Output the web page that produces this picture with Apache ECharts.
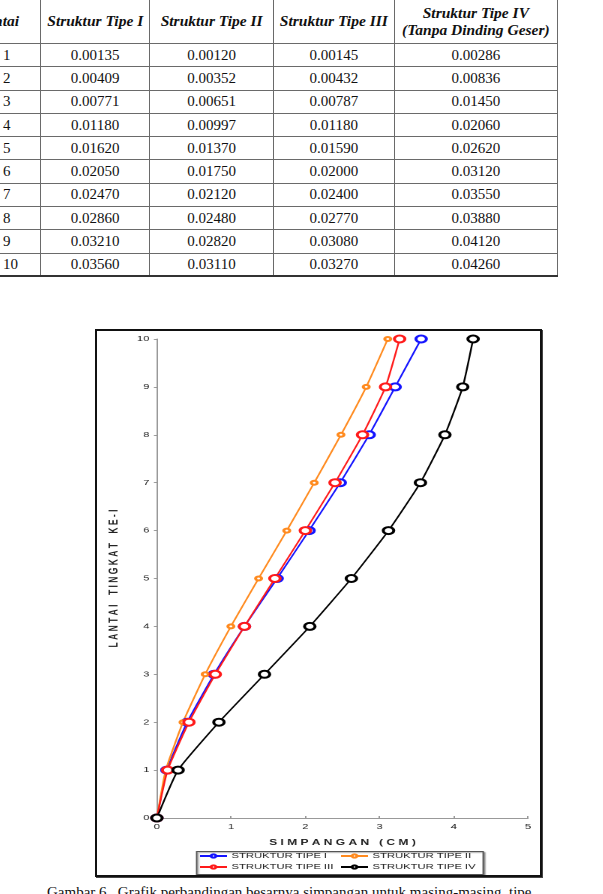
<!DOCTYPE html>
<html>
<head>
<meta charset="utf-8">
<script src="https://cdn.jsdelivr.net/npm/echarts@6/dist/echarts.min.js"></script>
<style>
html, body { margin: 0; padding: 0; width: 603px; height: 894px; overflow: hidden; background: #fff; }
.tbl {
  position: absolute; left: -45px; top: -3px;
  border-collapse: collapse; table-layout: fixed;
  font-family: 'Liberation Serif', 'Times New Roman', serif; font-size: 15px; color: #111;
}
.tbl th, .tbl td { border: 1px solid #6a6a6a; padding: 0; text-align: center; }
.tbl th { font-weight: bold; font-style: italic; height: 45px; line-height: 17px; font-size: 15.5px; }
.tbl tr.row { height: 23.3px; }
.tbl td.first { text-align: left; padding-left: 47px; }
.tbl tr.last td { border-bottom: 2px solid #333; }
#frame {
  position: absolute; left: 95px; top: 329px; width: 447px; height: 548px;
  box-sizing: border-box; border: 2px solid #111; box-shadow: 1px 1px 0 #444;
  pointer-events: none;
}
#chart {
  position: absolute; left: 95px; top: 329px; width: 298px; height: 548px;
  transform: scaleX(1.5); transform-origin: 0 0;
}
#caption {
  position: absolute; left: 47px; top: 884px; white-space: nowrap;
  font-family: 'Liberation Serif', 'Times New Roman', serif; font-size: 15px; color: #111;
}
</style>
</head>
<body>
<table class="tbl" id="tbl">
  <colgroup>
    <col style="width:90px"><col style="width:122px"><col style="width:139px"><col style="width:136px"><col style="width:188px">
  </colgroup>
</table>
<div id="chart"></div>
<div id="frame"></div>
<div id="caption">Gambar 6 . Grafik perbandingan besarnya simpangan untuk masing-masing&nbsp; tipe</div>
<script>
// simpangan per lantai (m), as listed in the table
const lantai = [0, 1, 2, 3, 4, 5, 6, 7, 8, 9, 10];
const tipeI = [0.00135, 0.00409, 0.00771, 0.01180, 0.01620, 0.02050, 0.02470, 0.02860, 0.03210, 0.03560];
const tipeII = [0.00120, 0.00352, 0.00651, 0.00997, 0.01370, 0.01750, 0.02120, 0.02480, 0.02820, 0.03110];
const tipeIII = [0.00145, 0.00432, 0.00787, 0.01180, 0.01590, 0.02000, 0.02400, 0.02770, 0.03080, 0.03270];
const tipeIV = [0.00286, 0.00836, 0.01450, 0.02060, 0.02620, 0.03120, 0.03550, 0.03880, 0.04120, 0.04260];

const tableHeaders = ['Lantai', 'Struktur Tipe I', 'Struktur Tipe II', 'Struktur Tipe III', 'Struktur Tipe IV'];
const tableSubHeader = '(Tanpa Dinding Geser)';
const seriesNames = ['STRUKTUR TIPE I', 'STRUKTUR TIPE II', 'STRUKTUR TIPE III', 'STRUKTUR TIPE IV'];
const xTicks = [0, 1, 2, 3, 4, 5];

// table
const tbl = document.getElementById('tbl');
let html = '<tr>';
tableHeaders.forEach((h, i) => {
  html += '<th>' + h + (i === tableHeaders.length - 1 ? '<br>' + tableSubHeader : '') + '</th>';
});
html += '</tr>';
for (let i = 0; i < tipeI.length; i++) {
  html += '<tr class="row' + (i === tipeI.length - 1 ? ' last' : '') + '">';
  html += '<td class="first">' + lantai[i + 1] + '</td>';
  [tipeI, tipeII, tipeIII, tipeIV].forEach(arr => {
    html += '<td>' + arr[i].toFixed(5) + '</td>';
  });
  html += '</tr>';
}
tbl.insertAdjacentHTML('beforeend', html);

// chart (cm)
const toPoints = arr => [[0, lantai[0]]].concat(arr.map((v, i) => [v * 100, lantai[i + 1]]));

const makeSeries = (name, arr, color, size, width) => ({
  name: name,
  type: 'line',
  smooth: 0.15,
  data: toPoints(arr),
  symbol: 'emptyCircle',
  symbolSize: size,
  lineStyle: { color: color, width: width },
  itemStyle: { color: color, borderColor: color, borderWidth: 1.6 },
  emphasis: { disabled: true },
  animation: false
});

const labelFont = { fontFamily: 'Liberation Sans, Arial, sans-serif', color: '#222' };

const legendBase = {
  orient: 'vertical', top: 523, itemWidth: 18, itemHeight: 4, itemGap: 3, padding: 0,
  itemStyle: { borderWidth: 1 },
  textStyle: Object.assign({ fontSize: 7.5, padding: [0, 0, 0, -2] }, labelFont)
};

const chart = echarts.init(document.getElementById('chart'), null, { devicePixelRatio: 2 });
chart.setOption({
  animation: false,
  grid: { left: 37.3, right: 9.3, top: 10, bottom: 59 },
  xAxis: {
    type: 'value', min: xTicks[0], max: xTicks[xTicks.length - 1], interval: 1,
    name: 'S I M P A N G A N   ( C M )', nameLocation: 'middle', nameGap: 21,
    nameTextStyle: Object.assign({ fontSize: 8, fontWeight: 'bold' }, labelFont),
    axisLine: { lineStyle: { color: '#999', width: 1 } },
    axisTick: { inside: true, length: 2, lineStyle: { color: '#999' } },
    axisLabel: Object.assign({ fontSize: 7.5, margin: 5 }, labelFont),
    splitLine: { show: false }
  },
  yAxis: {
    type: 'value', min: 0, max: 10, interval: 1,
    name: 'L A N T A I    T I N G K A T    K E - I', nameLocation: 'middle', nameGap: 24, nameRotate: 90,
    nameTextStyle: Object.assign({ fontSize: 8.5, fontWeight: 'bold' }, labelFont),
    axisLine: { show: true, lineStyle: { color: '#999', width: 1 } },
    axisTick: { show: true, length: 2, lineStyle: { color: '#999' } },
    axisLabel: Object.assign({ fontSize: 7.5, margin: 5 }, labelFont),
    splitLine: { show: false }
  },
  legend: [
    Object.assign({ data: [seriesNames[0], seriesNames[2]], left: 69 }, legendBase),
    Object.assign({ data: [seriesNames[1], seriesNames[3]], left: 163 }, legendBase)
  ],
  graphic: [{
    type: 'rect', left: 67.3, top: 522, z: -1,
    shape: { width: 191, height: 23 },
    style: { fill: '#fff', stroke: '#555', lineWidth: 1, shadowColor: 'rgba(0,0,0,0.35)', shadowOffsetX: 1, shadowOffsetY: 1, shadowBlur: 1 }
  }],
  series: [
    makeSeries(seriesNames[0], tipeI, '#1414ff', 7, 1.2),
    makeSeries(seriesNames[1], tipeII, '#ff8a1e', 4, 1.2),
    makeSeries(seriesNames[2], tipeIII, '#ff1a1a', 7, 1.2),
    makeSeries(seriesNames[3], tipeIV, '#000000', 7, 1.2)
  ]
});
</script>
</body>
</html>
